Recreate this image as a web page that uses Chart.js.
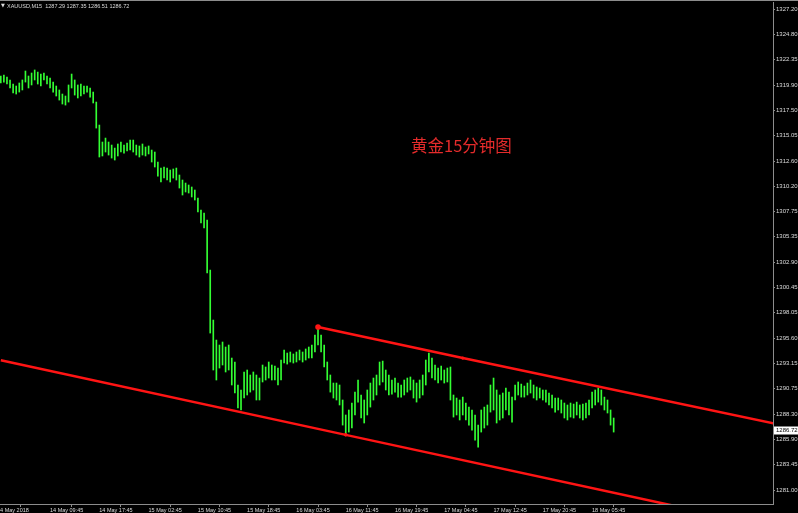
<!DOCTYPE html>
<html>
<head>
<meta charset="utf-8">
<script src="https://cdn.jsdelivr.net/npm/chart.js@4"></script>
<style>
  html, body { margin: 0; padding: 0; background: #000; }
  canvas { display: block; }
</style>
</head>
<body>
<canvas id="goldChart" width="798" height="513"></canvas>
<script>
// XAUUSD M15, one bar per 30 minutes
const highs = [
  1320.77, 1320.87, 1320.67, 1320.39, 1320.00, 1319.81, 1320.10, 1320.39, 1321.25, 1320.77,
  1321.06, 1321.35, 1321.15, 1320.96, 1321.06, 1320.77, 1320.58, 1320.19, 1319.81, 1319.43,
  1319.04, 1318.85, 1319.91, 1320.96, 1320.39, 1319.91, 1320.00, 1319.81, 1319.81, 1319.62,
  1319.23, 1318.27, 1316.06, 1314.43, 1314.81, 1314.43, 1314.14, 1313.85, 1314.24, 1314.43,
  1314.14, 1314.33, 1314.62, 1314.62, 1314.14, 1314.05, 1314.24, 1313.95, 1314.05, 1313.66,
  1313.47, 1312.51, 1311.93, 1312.03, 1311.93, 1311.74, 1311.84, 1311.93, 1311.26, 1310.78,
  1310.49, 1310.30, 1310.11, 1309.82, 1309.05, 1307.90, 1307.61, 1306.94, 1302.13, 1297.33,
  1295.41, 1294.93, 1295.22, 1294.74, 1294.93, 1293.68, 1293.30, 1291.09, 1290.61, 1292.34,
  1292.53, 1292.05, 1292.34, 1292.05, 1291.76, 1293.01, 1292.82, 1293.30, 1293.01, 1292.91,
  1292.72, 1293.49, 1294.45, 1294.16, 1294.26, 1294.07, 1294.26, 1294.45, 1294.26, 1294.55,
  1294.74, 1294.93, 1295.89, 1296.66, 1295.89, 1294.93, 1293.30, 1292.05, 1291.28, 1291.28,
  1291.09, 1289.65, 1288.21, 1288.69, 1289.36, 1290.41, 1291.57, 1290.13, 1289.65, 1290.61,
  1291.28, 1291.76, 1292.05, 1293.30, 1293.39, 1292.53, 1292.05, 1291.57, 1291.76, 1291.28,
  1291.09, 1291.57, 1291.76, 1291.86, 1291.57, 1291.28, 1291.57, 1292.05, 1293.49, 1294.16,
  1293.68, 1293.01, 1292.72, 1292.91, 1292.53, 1292.72, 1292.82, 1290.13, 1289.84, 1289.65,
  1289.93, 1289.36, 1288.97, 1288.69, 1288.21, 1287.24, 1288.69, 1288.97, 1289.17, 1291.09,
  1291.76, 1290.61, 1290.13, 1290.32, 1290.80, 1290.41, 1289.93, 1291.09, 1291.38, 1291.18,
  1290.99, 1291.28, 1291.57, 1291.09, 1290.90, 1290.80, 1290.61, 1290.61, 1290.32, 1290.13,
  1289.84, 1289.84, 1289.65, 1289.36, 1289.17, 1289.36, 1289.26, 1289.45, 1289.17, 1289.26,
  1289.36, 1289.65, 1290.41, 1290.61, 1290.80, 1290.61, 1289.93, 1289.65, 1288.69, 1287.92,
];
const lows = [
  1320.10, 1320.19, 1320.00, 1319.62, 1319.14, 1319.04, 1319.23, 1319.43, 1320.19, 1319.62,
  1319.91, 1320.39, 1320.00, 1319.81, 1320.39, 1320.00, 1319.62, 1319.23, 1318.85, 1318.46,
  1318.08, 1317.98, 1318.27, 1319.62, 1318.94, 1318.66, 1318.85, 1319.04, 1319.23, 1318.75,
  1318.18, 1315.77, 1312.99, 1313.09, 1313.47, 1313.18, 1312.89, 1312.70, 1313.09, 1313.47,
  1313.37, 1313.57, 1313.66, 1313.47, 1313.18, 1312.99, 1313.18, 1313.09, 1313.28, 1312.51,
  1312.03, 1311.16, 1310.59, 1310.97, 1310.78, 1310.59, 1310.97, 1310.78, 1310.01, 1309.34,
  1309.63, 1309.53, 1309.15, 1308.86, 1307.71, 1306.65, 1306.17, 1301.85, 1296.08, 1292.53,
  1291.57, 1292.72, 1293.01, 1292.34, 1292.53, 1291.09, 1290.32, 1288.88, 1288.69, 1289.84,
  1290.13, 1290.41, 1290.61, 1289.65, 1289.65, 1291.38, 1291.57, 1291.76, 1291.57, 1291.57,
  1291.09, 1291.57, 1293.20, 1293.10, 1293.30, 1293.20, 1293.30, 1293.49, 1293.30, 1293.49,
  1293.68, 1293.68, 1294.26, 1294.93, 1294.26, 1292.82, 1291.57, 1290.41, 1289.84, 1289.65,
  1289.17, 1287.24, 1286.28, 1286.57, 1286.96, 1288.21, 1289.45, 1287.92, 1287.44, 1288.21,
  1288.97, 1289.65, 1290.13, 1291.09, 1291.38, 1290.61, 1290.13, 1290.22, 1290.41, 1289.93,
  1289.93, 1290.13, 1290.41, 1290.61, 1289.84, 1289.45, 1289.84, 1290.13, 1291.09, 1292.34,
  1291.76, 1291.57, 1291.28, 1291.57, 1291.28, 1291.38, 1289.65, 1288.01, 1288.21, 1287.73,
  1288.21, 1287.73, 1287.24, 1286.76, 1285.80, 1285.13, 1286.57, 1286.96, 1287.24, 1288.49,
  1288.69, 1287.44, 1287.73, 1287.92, 1288.69, 1288.21, 1287.53, 1289.65, 1290.13, 1289.93,
  1289.93, 1290.13, 1290.32, 1289.84, 1289.65, 1289.84, 1289.65, 1289.45, 1289.17, 1288.88,
  1288.49, 1288.69, 1288.40, 1287.92, 1287.73, 1288.01, 1287.92, 1288.21, 1287.92, 1287.73,
  1287.92, 1288.21, 1288.88, 1289.17, 1289.45, 1289.17, 1288.69, 1288.40, 1287.24, 1286.57,
];

// last bar O H L C shown in the header
const lastBar = [1287.29, 1287.35, 1286.51, 1286.72];
const lastPrice = 1286.72;

// channel lines (bar index, price)
const upperChannel = [
  { x: 103, y: 1296.66 },
  { x: 150, y: 1293.68 },
  { x: 251, y: 1287.40 },
];
const lowerChannel = [
  { x: 0, y: 1293.46 },
  { x: 112, y: 1286.30 },
  { x: 251, y: 1277.42 },
];

const yTicks = [
  1327.20, 1324.80, 1322.35, 1319.90, 1317.50, 1315.05, 1312.60, 1310.20, 1307.75, 1305.35,
  1302.90, 1300.45, 1298.05, 1295.60, 1293.15, 1290.75, 1288.30, 1285.90, 1283.45, 1281.00,
];
const xTickPos = [-2.2, 15, 31, 47, 63, 79, 95, 111, 127, 143, 159, 175, 191];
const xTickLabels = [
  "14 May 2018", "14 May 09:45", "14 May 17:45", "15 May 02:45", "15 May 10:45",
  "15 May 18:45", "16 May 03:45", "16 May 11:45", "16 May 19:45", "17 May 04:45",
  "17 May 12:45", "17 May 20:45", "18 May 05:45",
];

const chartTitle = "黄金15分钟图";
const symbolName = "XAUUSD,M15";

const axisColor = "#8c8c8c";
const textColor = "#dcdcdc";
const yFont = { family: "Liberation Sans", size: 6 };
const xFont = { family: "Liberation Sans", size: 5.5 };

const bars = highs.map((h, i) => ({ x: i, y: [lows[i], h] }));

// frame line, header text, last price box, chart caption
const overlay = {
  id: "overlay",
  afterDraw(chart) {
    const { ctx } = chart;
    const yScale = chart.scales.y;
    ctx.save();

    ctx.strokeStyle = axisColor;
    ctx.lineWidth = 1;
    ctx.beginPath();
    ctx.moveTo(0, 0.5);
    ctx.lineTo(chart.width, 0.5);
    ctx.stroke();

    ctx.fillStyle = textColor;
    ctx.textBaseline = "middle";
    ctx.textAlign = "left";
    ctx.font = '5px "DejaVu Sans"';
    ctx.fillText("\u25BC", 1, 6);
    ctx.font = '5.5px "Liberation Sans"';
    ctx.fillText(symbolName + "  " + lastBar.map((v) => v.toFixed(2)).join(" "), 7, 6);

    // last price label on the axis
    const py = yScale.getPixelForValue(lastPrice);
    ctx.fillStyle = "#ffffff";
    ctx.fillRect(chart.chartArea.right + 1, py - 4, 24, 8);
    ctx.fillStyle = "#000000";
    ctx.font = '6px "Liberation Sans"';
    ctx.fillText(lastPrice.toFixed(2), chart.chartArea.right + 3, py);

    ctx.fillStyle = "#e42b2b";
    ctx.font = '16.5px "Noto Sans CJK SC"';
    ctx.fillText(chartTitle, 411, 146);
    ctx.restore();
  },
};

new Chart(document.getElementById("goldChart"), {
  type: "bar",
  data: {
    datasets: [
      {
        type: "line",
        data: upperChannel,
        borderColor: "#ff1414",
        borderWidth: 2.5,
        pointRadius: [2.8, 1.6, 0],
        pointBackgroundColor: "#ff1414",
        pointBorderWidth: 0,
        order: 0,
      },
      {
        type: "line",
        data: lowerChannel,
        borderColor: "#ff1414",
        borderWidth: 2.5,
        pointRadius: [0, 1.8, 0],
        pointBackgroundColor: "#ff1414",
        pointBorderWidth: 0,
        order: 0,
      },
      {
        type: "bar",
        data: bars,
        backgroundColor: "#33ff33",
        barThickness: 1,
        order: 1,
      },
    ],
  },
  options: {
    responsive: false,
    animation: false,
    devicePixelRatio: 1,
    layout: { autoPadding: false, padding: { top: 2, left: 0, right: 0, bottom: 0 } },
    plugins: {
      legend: { display: false },
      tooltip: { enabled: false },
    },
    scales: {
      x: {
        type: "linear",
        min: -0.26,
        max: 250.74,
        offset: false,
        afterFit: (s) => {
          s.height = 9;
          s.paddingLeft = 0;
          s.paddingRight = 0;
        },
        afterBuildTicks: (s) => { s.ticks = xTickPos.map((v) => ({ value: v })); },
        ticks: {
          autoSkip: false,
          maxRotation: 0,
          align: "start",
          labelOffset: 3,
          padding: 0,
          color: textColor,
          font: xFont,
          callback: (v, i) => xTickLabels[i],
        },
        grid: { drawOnChartArea: false, drawTicks: true, tickLength: 3, color: axisColor },
        border: { display: true, color: axisColor, width: 1 },
      },
      y: {
        position: "right",
        min: 1279.66,
        max: 1327.88,
        afterFit: (s) => {
          s.width = 25;
          s.paddingTop = 0;
          s.paddingBottom = 0;
        },
        afterBuildTicks: (s) => { s.ticks = yTicks.map((v) => ({ value: v })); },
        ticks: {
          padding: 1,
          color: textColor,
          font: yFont,
          callback: (v) => Number(v).toFixed(2),
        },
        grid: { drawOnChartArea: false, drawTicks: true, tickLength: 2, color: axisColor },
        border: { display: true, color: axisColor, width: 1 },
      },
    },
  },
  plugins: [overlay],
});
</script>
</body>
</html>
